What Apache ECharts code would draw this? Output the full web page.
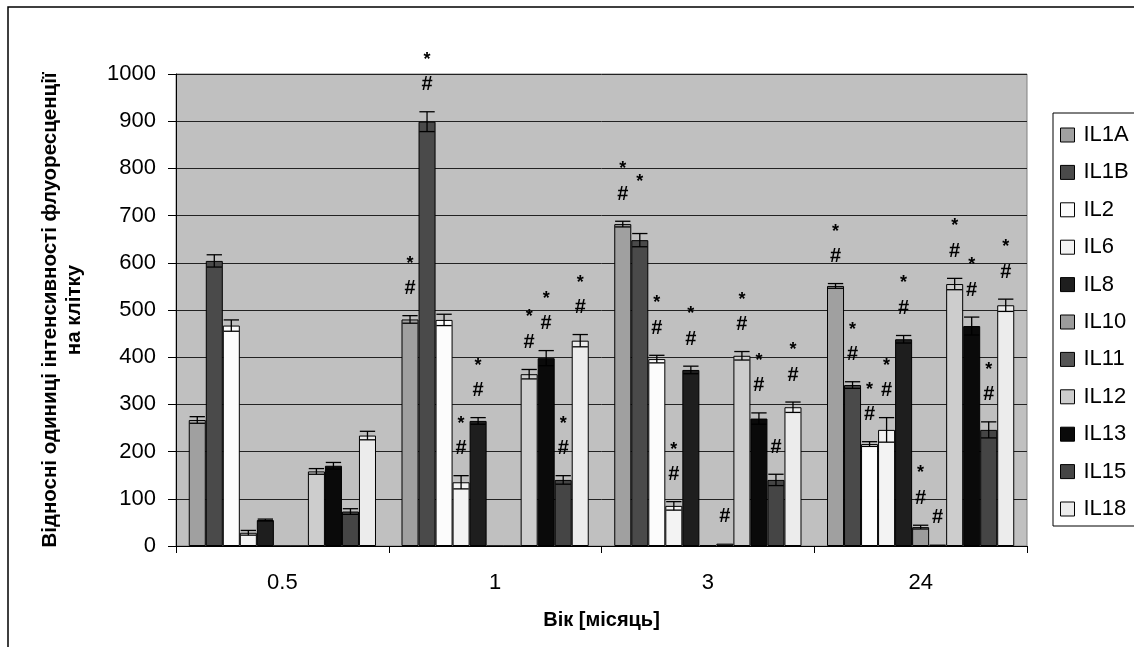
<!DOCTYPE html>
<html><head><meta charset="utf-8">
<script src="https://cdn.jsdelivr.net/npm/echarts@6/dist/echarts.min.js"></script>
<style>html,body{margin:0;padding:0;background:#fff}#c{width:1134px;height:647px}</style>
</head><body><div id="c"></div>
<script>
// ---- data ----
const categories = ['0.5', '1', '3', '24'];
const seriesNames = ['IL1A','IL1B','IL2','IL6','IL8','IL10','IL11','IL12','IL13','IL15','IL18'];
const yMin = 0, yMax = 1000, yStep = 100;

// values (bar heights) per series, one per age category
const vIL1A = [267, 480, 682, 551];
const vIL1B = [604, 899, 648, 341];
const vIL2  = [467, 479, 396, 216];
const vIL6  = [28, 135, 85, 246];
const vIL8  = [55, 265, 373, 438];
const vIL10 = [0, 0, 2, 40];
const vIL11 = [0, 0, 5, 3];
const vIL12 = [158, 364, 403, 555];
const vIL13 = [170, 398, 270, 466];
const vIL15 = [73, 140, 140, 246];
const vIL18 = [234, 435, 294, 510];

// error bar half-lengths
const eIL1A = [7, 8, 6, 5];
const eIL1B = [13, 21, 14, 7];
const eIL2  = [12, 12, 8, 5];
const eIL6  = [5, 14, 9, 26];
const eIL8  = [2, 7, 8, 8];
const eIL10 = [0, 0, 0, 4];
const eIL11 = [0, 0, 0, 0];
const eIL12 = [6, 10, 9, 12];
const eIL13 = [7, 16, 12, 19];
const eIL15 = [6, 9, 12, 17];
const eIL18 = [9, 13, 11, 13];

// significance marks
const sIL1A = ['', '*#', '*#', '*#'];
const sIL1B = ['', '*#', '*', '*#'];
const sIL2  = ['', '', '*#', '*#'];
const sIL6  = ['', '*#', '*#', '*#'];
const sIL8  = ['', '*#', '*#', '*#'];
const sIL10 = ['', '', '', '*#'];
const sIL11 = ['', '', '#', '#'];
const sIL12 = ['', '*#', '*#', '*#'];
const sIL13 = ['', '*#', '*#', '*#'];
const sIL15 = ['', '*#', '#', '*#'];
const sIL18 = ['', '*#', '*#', '*#'];

const valueSets = [vIL1A, vIL1B, vIL2, vIL6, vIL8, vIL10, vIL11, vIL12, vIL13, vIL15, vIL18];
const errorSets = [eIL1A, eIL1B, eIL2, eIL6, eIL8, eIL10, eIL11, eIL12, eIL13, eIL15, eIL18];
const sigSets   = [sIL1A, sIL1B, sIL2, sIL6, sIL8, sIL10, sIL11, sIL12, sIL13, sIL15, sIL18];

// ---- styles ----
const colors = ['#a0a0a0','#4a4a4a','#fcfcfc','#f3f3f3','#1e1e1e','#9c9c9c','#555555','#cdcdcd','#0a0a0a','#454545','#ececec'];
const FONT = '"Liberation Sans", Arial, sans-serif';
const CAT_GAP = 0.12;

const N = seriesNames.length;
const errData = [];
const errSig = [];
for (let s = 0; s < N; s++) {
  for (let c = 0; c < categories.length; c++) {
    errData.push([c, s, valueSets[s][c], errorSets[s][c]]);
    errSig.push(sigSets[s][c]);
  }
}

function renderErr(params, api) {
  const cat = api.value(0), si = api.value(1), v = api.value(2), e = api.value(3);
  const sig = errSig[params.dataIndex];
  const band = api.size([1, 0])[0];
  const total = band * (1 - CAT_GAP);
  const bw = total / N;
  const cx = api.coord([cat, 0])[0] - total / 2 + bw * (si + 0.5);
  const yTop = api.coord([cat, v + e])[1];
  const yBot = api.coord([cat, Math.max(v - e, 0)])[1];
  const cap = bw * 0.45;
  const st = { stroke: '#000', lineWidth: 1.3 };
  const children = [];
  if (e > 0) {
    children.push({ type: 'line', shape: { x1: cx, y1: yTop, x2: cx, y2: yBot }, style: st });
    children.push({ type: 'line', shape: { x1: cx - cap, y1: yTop, x2: cx + cap, y2: yTop }, style: st });
    children.push({ type: 'line', shape: { x1: cx - cap, y1: yBot, x2: cx + cap, y2: yBot }, style: st });
  }
  const hashY = yTop - 27;
  if (sig.indexOf('#') >= 0) {
    children.push({ type: 'text', style: { text: '#', x: cx, y: hashY, font: 'bold 20px ' + FONT, fill: '#000', align: 'center', verticalAlign: 'middle' } });
  }
  if (sig.indexOf('*') >= 0) {
    children.push({ type: 'text', style: { text: '*', x: cx, y: hashY - 25, font: 'bold 18px ' + FONT, fill: '#000', align: 'center', verticalAlign: 'middle' } });
  }
  return { type: 'group', children };
}

const series = seriesNames.map((name, i) => ({
  name,
  type: 'bar',
  data: valueSets[i],
  barGap: '0%',
  barCategoryGap: (CAT_GAP * 100) + '%',
  itemStyle: { color: colors[i], borderColor: '#000', borderWidth: 1 },
  emphasis: { disabled: true },
  animation: false
}));
series.push({
  type: 'custom',
  name: 'err',
  renderItem: renderErr,
  data: errData,
  z: 10,
  silent: true,
  animation: false,
  encode: { x: 0, y: 2 }
});

const chart = echarts.init(document.getElementById('c'), null, { renderer: 'canvas' });
chart.setOption({
  animation: false,
  backgroundColor: '#fff',
  textStyle: { fontFamily: FONT },
  graphic: [{
    type: 'rect', shape: { x: 8, y: 7, width: 1300, height: 800 },
    style: { fill: 'none', stroke: '#000', lineWidth: 1.5 }, silent: true, z: -1
  }],
  grid: {
    left: 176, right: 107, top: 74, bottom: 101,
    show: true, backgroundColor: '#c0c0c0', borderColor: '#808080', borderWidth: 1
  },
  legend: {
    data: seriesNames,
    orient: 'vertical',
    left: 1053, top: 113,
    padding: [11, 60, 6, 7],
    borderColor: '#000', borderWidth: 1,
    backgroundColor: '#fff',
    itemWidth: 14, itemHeight: 14,
    itemGap: 15.4,
    icon: 'rect',
    itemStyle: { borderColor: '#000', borderWidth: 1 },
    textStyle: { fontSize: 22, color: '#000', fontFamily: FONT, lineHeight: 22, padding: [0, 0, 0, 4] },
    selectedMode: false
  },
  xAxis: {
    type: 'category',
    data: categories,
    name: 'Вік [місяць]',
    nameLocation: 'middle',
    nameGap: 64,
    nameTextStyle: { fontSize: 20, fontWeight: 'bold', color: '#000', fontFamily: FONT },
    axisLine: { lineStyle: { color: '#000', width: 1 } },
    axisTick: { show: true, length: 7, lineStyle: { color: '#000' } },
    axisLabel: { fontSize: 22, color: '#000', margin: 26, fontFamily: FONT },
    splitLine: { show: false }
  },
  yAxis: {
    type: 'value',
    min: yMin, max: yMax, interval: yStep,
    name: 'Відносні одиниці інтенсивності флуоресценції\nна клітку',
    nameLocation: 'middle',
    nameGap: 90,
    nameRotate: 90,
    nameTextStyle: { fontSize: 20.5, fontWeight: 'bold', color: '#000', fontFamily: FONT, lineHeight: 24, align: 'center' },
    axisLine: { show: true, lineStyle: { color: '#000', width: 1 } },
    axisTick: { show: true, length: 8, lineStyle: { color: '#000' } },
    axisLabel: { fontSize: 22, color: '#000', margin: 20, fontFamily: FONT, formatter: (v) => String(v) },
    splitLine: { show: true, lineStyle: { color: '#222', width: 1 } }
  },
  series
});
</script>
</body></html>
